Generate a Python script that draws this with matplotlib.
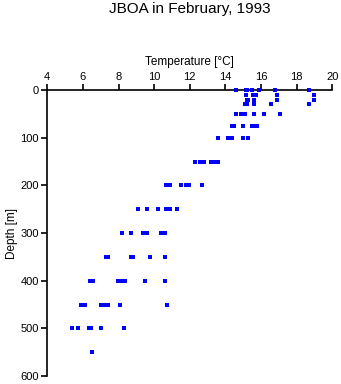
import numpy as np
import matplotlib
matplotlib.use("Agg")
import matplotlib.pyplot as plt

plt.rcParams['font.family'] = ['Liberation Sans', 'DejaVu Sans']

# Sampling depths [m] and the temperatures [°C] read at each depth
depth_levels = [0, 10, 20, 30, 50, 75, 100, 150, 200, 250, 300, 350, 400, 450, 500, 550]
temps_by_level = [
    [14.61, 15.14, 15.23, 15.51, 15.90, 16.80, 18.71],   # 0 m
    [15.17, 15.53, 15.72, 16.88, 18.99],                  # 10 m
    [15.20, 15.28, 15.60, 16.88, 18.99],                  # 20 m
    [15.10, 15.20, 15.60, 16.58, 18.71],                  # 30 m
    [14.61, 14.88, 15.08, 15.60, 16.18, 17.08],           # 50 m
    [14.39, 14.50, 15.00, 15.51, 15.59, 15.79],           # 75 m
    [13.60, 14.16, 14.28, 14.39, 15.00, 15.29],           # 100 m
    [12.31, 12.59, 12.82, 13.19, 13.36, 13.60],           # 150 m
    [10.66, 10.90, 11.50, 11.79, 11.96, 12.70],           # 200 m
    [9.11, 9.61, 10.20, 10.68, 10.78, 10.90, 11.30],      # 250 m
    [8.21, 8.72, 9.39, 9.61, 10.40, 10.63],               # 300 m
    [7.30, 7.42, 8.70, 8.83, 9.78, 10.59],                # 350 m
    [6.40, 6.58, 7.99, 8.21, 8.36, 9.50, 10.59],          # 400 m
    [5.89, 6.06, 6.13, 7.00, 7.18, 7.42, 8.10, 10.70],    # 450 m
    [5.40, 5.71, 6.32, 6.45, 7.00, 8.32],                 # 500 m
    [6.53],                                               # 550 m
]

temps = []
depths = []
for d, row in zip(depth_levels, temps_by_level):
    for t in row:
        temps.append(t)
        depths.append(d)

x_ticks = [4, 6, 8, 10, 12, 14, 16, 18, 20]
y_ticks = [0, 100, 200, 300, 400, 500, 600]

fig = plt.figure(figsize=(3.41, 3.84), dpi=100)
ax = fig.add_axes([0.1387, 0.0208, 0.8358, 0.7448])

ax.plot(temps, depths, linestyle="none", marker="s", markersize=2.3,
        color="#0000ff", markeredgewidth=0, clip_on=False, zorder=5)

ax.set_xlim(4, 20)
ax.set_ylim(600, 0)
ax.set_xticks(x_ticks)
ax.set_yticks(y_ticks)

# Temperature axis on top, depth axis on left
ax.xaxis.tick_top()
ax.spines["bottom"].set_visible(False)
ax.spines["right"].set_visible(False)
ax.spines["top"].set_linewidth(1.2)
ax.spines["left"].set_linewidth(1.2)
ax.tick_params(axis="both", length=4, width=1.2, labelsize=8, pad=2)

ax.set_ylabel("Depth [m]", fontsize=8.5, labelpad=2)
fig.text(0.557, 0.832, "Temperature [°C]", ha="center", va="baseline", fontsize=8.5)
fig.text(0.557, 0.967, "JBOA in February, 1993", ha="center", va="baseline", fontsize=11)

fig.savefig("out.png", dpi=100)
